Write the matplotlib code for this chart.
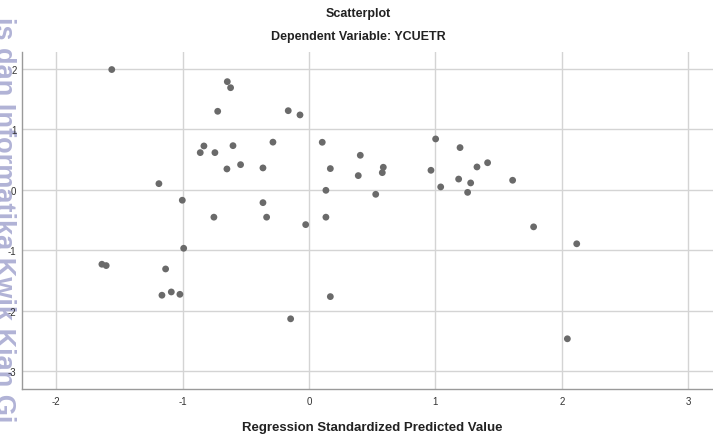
import matplotlib
matplotlib.use("Agg")
import matplotlib.pyplot as plt

predicted = [-1.56, -0.646, -0.620, -0.722, -0.285, -0.831, -0.860, -0.744, -0.601, -0.541,
             -0.649, -0.364, -1.187, -1.002, -0.364, -0.752, -0.335, -0.164, -0.071, 0.105,
             0.406, 0.169, 0.390, 0.588, 0.580, 0.134, 0.528, 1.002, 1.195, 0.965,
             1.329, 1.042, 1.184, 1.279, 1.255, 0.134, 1.413, 1.611, -0.991, -1.638,
             -1.604, -1.134, -1.163, -1.089, -1.021, -0.026, 0.169, -0.145, 1.777, 2.118,
             2.044]
residual = [1.99, 1.79, 1.69, 1.30, 0.79, 0.727, 0.617, 0.617, 0.732, 0.418,
            0.347, 0.364, 0.104, -0.17, -0.21, -0.45, -0.45, 1.31, 1.24, 0.788,
            0.573, 0.353, 0.237, 0.375, 0.286, -0.006, -0.072, 0.843, 0.70, 0.325,
            0.38, 0.05, 0.18, 0.116, -0.04, -0.45, 0.45, 0.16, -0.964, -1.228,
            -1.25, -1.306, -1.74, -1.686, -1.725, -0.573, -1.763, -2.13, -0.61, -0.89,
            -2.46]
xticks = [-2, -1, 0, 1, 2, 3]
yticks = [-3, -2, -1, 0, 1, 2]

plt.rcParams['font.family'] = ['Liberation Sans', 'DejaVu Sans']

fig = plt.figure(figsize=(7.13, 4.39), dpi=100)
ax = fig.add_axes([22/713, 1 - 390/439, 1 - 22/713, (390 - 53)/439])
ax.patch.set_alpha(0)
ax.set_xlim(-2.27, 3.196)
ax.set_ylim(-3.29, 2.28)
ax.set_xticks(xticks)
ax.set_yticks(yticks)
ax.set_xticklabels([str(t) for t in xticks])
ax.set_yticklabels([str(t) for t in yticks])
ax.grid(True, color='#d4d4d4', linewidth=1.0)
ax.set_axisbelow(True)
ax.scatter(predicted, residual, s=24, color='#6a6a6a', edgecolors='none', zorder=3)

for side in ['top', 'right']:
    ax.spines[side].set_visible(False)
for side in ['left', 'bottom']:
    ax.spines[side].set_color('#9a9a9a')
    ax.spines[side].set_linewidth(1.0)
ax.tick_params(axis='both', length=0, labelsize=7, colors='#333333')
ax.tick_params(axis='x', pad=5)
ax.tick_params(axis='y', pad=4)

fig.text(358/713, 1 - 14/439, 'Scatterplot', ha='center', va='center',
         fontsize=9, fontweight='bold', color='#222222')
fig.text(358/713, 1 - 37/439, 'Dependent Variable: YCUETR', ha='center', va='center',
         fontsize=9, fontweight='bold', color='#222222')
fig.text(372/713, 1 - 428/439, 'Regression Standardized Predicted Value', ha='center',
         va='center', fontsize=9.5, fontweight='bold', color='#222222')

fig.text(3/713, 0.5, 'is dan Informatika Kwik Kian Gi', rotation=-90, ha='center',
         va='center', fontsize=19.5, fontweight='bold', color='#a3a5cf', alpha=0.85,
         zorder=-5)

fig.savefig('out.png', dpi=100)
